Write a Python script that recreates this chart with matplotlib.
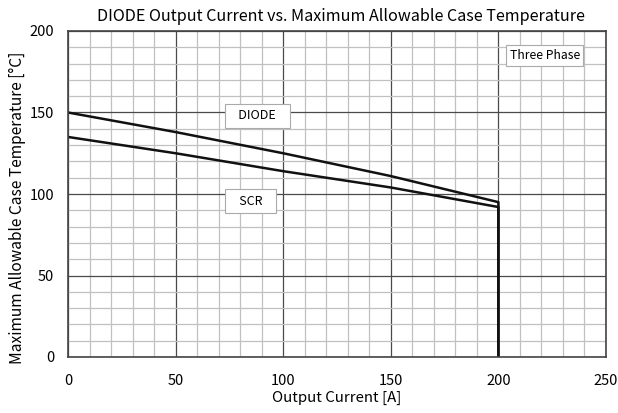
import matplotlib.pyplot as plt
import numpy as np

plt.rcParams['font.family'] = ['Noto Sans CJK JP', 'DejaVu Sans']

# data
current = [0, 50, 100, 150, 200, 200]
diode_temp = [150, 138, 125, 111, 95, 0]
scr_temp = [135, 125, 114, 104, 92, 0]

xticks = [0, 50, 100, 150, 200, 250]
yticks = [0, 50, 100, 150, 200]

fig = plt.figure(figsize=(6.18, 4.13), dpi=100)
ax = fig.add_axes([68 / 618, 1 - 357 / 413, (606 - 68) / 618, (357 - 31) / 413])

ax.plot(current, diode_temp, color='#111111', lw=1.8)
ax.plot(current, scr_temp, color='#111111', lw=1.8)

ax.set_xlim(0, 250)
ax.set_ylim(0, 200)
ax.set_xticks(xticks)
ax.set_yticks(yticks)
ax.set_xticks(np.arange(0, 251, 10), minor=True)
ax.set_yticks(np.arange(0, 201, 10), minor=True)
ax.grid(True, which='major', color='#4a4a4a', lw=0.9)
ax.grid(True, which='minor', color='#c0c0c0', lw=0.9)
ax.set_axisbelow(True)
ax.tick_params(which='both', length=0, labelsize=10.5)
ax.tick_params(axis='x', pad=12)
ax.tick_params(axis='y', pad=10)
for s in ax.spines.values():
    s.set_color('#444444')
    s.set_linewidth(1.2)

ax.set_xlabel('Output Current [A]', fontsize=10.8)
ax.xaxis.set_label_coords(0.5, -0.105)
ax.set_ylabel('Maximum Allowable Case Temperature [\u00b0C]', fontsize=11.2)
ax.yaxis.set_label_coords(-0.078, 0.457)
ax.set_title('DIODE Output Current vs. Maximum Allowable Case Temperature',
             fontsize=11.6, loc='left', x=0.054, pad=7)

box = dict(boxstyle='square,pad=0.45', fc='white', ec='#aaaaaa', lw=0.8)
ax.text(88, 148, '   DIODE   ', ha='center', va='center', fontsize=9, bbox=box)
ax.text(85, 95.5, '   SCR   ', ha='center', va='center', fontsize=9, bbox=box)
ax.text(221.5, 185, 'Three Phase', ha='center', va='center', fontsize=8.8,
        bbox=dict(boxstyle='square,pad=0.3', fc='white', ec='#aaaaaa', lw=0.8))

fig.savefig('out.png', dpi=100)
